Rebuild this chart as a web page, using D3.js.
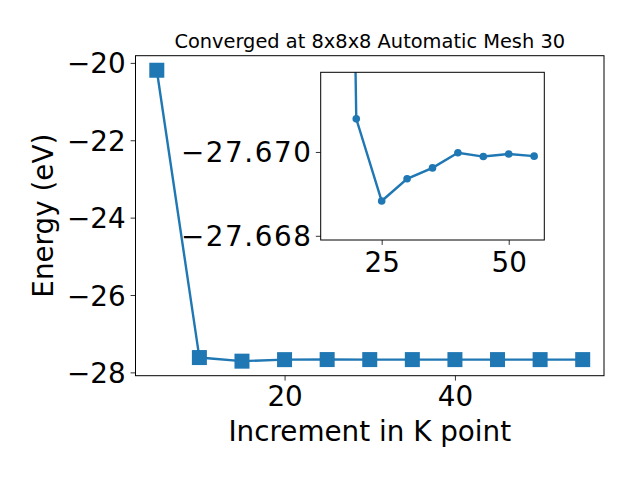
<!DOCTYPE html>
<html>
<head>
<meta charset="utf-8">
<script src="https://cdn.jsdelivr.net/npm/d3@7"></script>
<style>
body { margin: 0; background: #fff; }
svg { display: block; font-family: "DejaVu Sans", sans-serif; }
</style>
</head>
<body>
<svg id="chart" width="640" height="480"></svg>
<script>
// Data
const kpoints = [5, 10, 15, 20, 25, 30, 35, 40, 45, 50, 55];
const energy = [-20.19, -27.617, -27.71, -27.67079, -27.66883, -27.66936, -27.66962, -27.66998, -27.66989, -27.66995, -27.66990];
const mainXTicks = [20, 40];
const mainYTicks = [-28, -26, -24, -22, -20];
const insetXTicks = [25, 50];
const insetYTicks = [-27.670, -27.668];
const insetYLimits = [-27.6679, -27.6719];
const titleText = "Converged at 8x8x8 Automatic Mesh 30";
const xLabel = "Increment in K point";
const yLabel = "Energy (eV)";

const color = "#1f77b4";
const svg = d3.select("#chart");
const data = kpoints.map((k, i) => ({ k, e: energy[i] }));

// Main axes box
const M = { left: 135.5, right: 604, top: 55.7, bottom: 375.7 };
const xExt = d3.extent(kpoints), xPad = (xExt[1] - xExt[0]) * 0.05;
const yExt = d3.extent(energy), yPad = (yExt[1] - yExt[0]) * 0.05;
const x = d3.scaleLinear().domain([xExt[0] - xPad, xExt[1] + xPad]).range([M.left, M.right]);
const y = d3.scaleLinear().domain([yExt[0] - yPad, yExt[1] + yPad]).range([M.bottom, M.top]);

const fmtInt = d3.format("d");
const tickFont = "27.8px";

// main x axis
const gx = svg.append("g").attr("transform", `translate(0,${M.bottom})`)
  .call(d3.axisBottom(x).tickValues(mainXTicks).tickFormat(fmtInt).tickSize(4.9).tickPadding(4.9));
gx.select(".domain").remove();
gx.selectAll("line").attr("stroke", "#000").attr("stroke-width", 0.8);
gx.selectAll("text").attr("font-size", tickFont).attr("fill", "#000")
  .attr("font-family", "DejaVu Sans").attr("dy", "0.72em").attr("y", 10.6);

// main y axis
const gy = svg.append("g").attr("transform", `translate(${M.left},0)`)
  .call(d3.axisLeft(y).tickValues(mainYTicks).tickFormat(d3.format("d")).tickSize(4.9).tickPadding(4.9));
gy.select(".domain").remove();
gy.selectAll("line").attr("stroke", "#000").attr("stroke-width", 0.8);
gy.selectAll("text").attr("font-size", tickFont).attr("fill", "#000")
  .attr("font-family", "DejaVu Sans").attr("dy", "0.36em").attr("x", -9.8);

// clip for main
svg.append("clipPath").attr("id", "mainClip").append("rect")
  .attr("x", M.left).attr("y", M.top).attr("width", M.right - M.left).attr("height", M.bottom - M.top);

const mainG = svg.append("g").attr("clip-path", "url(#mainClip)");
mainG.append("path").datum(data)
  .attr("fill", "none").attr("stroke", color).attr("stroke-width", 2.4)
  .attr("d", d3.line().x(d => x(d.k)).y(d => y(d.e)));
const sq = 15;
mainG.selectAll("rect.mk").data(data).enter().append("rect").attr("class", "mk")
  .attr("x", d => x(d.k) - sq / 2).attr("y", d => y(d.e) - sq / 2)
  .attr("width", sq).attr("height", sq).attr("fill", color);

svg.append("rect").attr("x", M.left).attr("y", M.top)
  .attr("width", M.right - M.left).attr("height", M.bottom - M.top)
  .attr("fill", "none").attr("stroke", "#000").attr("stroke-width", 1);

// labels
svg.append("text").attr("x", (M.left + M.right) / 2).attr("y", 47.7)
  .attr("text-anchor", "middle").attr("font-size", "19.4px").text(titleText);
svg.append("text").attr("x", (M.left + M.right) / 2).attr("y", 440.7)
  .attr("text-anchor", "middle").attr("font-size", "27.8px").text(xLabel);
svg.append("text").attr("transform", `translate(53,${(M.top + M.bottom) / 2}) rotate(-90)`)
  .attr("text-anchor", "middle").attr("font-size", "27.8px").text(yLabel);

// Inset
const I = { left: 320.7, right: 544.3, top: 72.3, bottom: 240 };
const insetData = data.filter(d => d.k >= 15);
const ixExt = d3.extent(insetData, d => d.k), ixPad = (ixExt[1] - ixExt[0]) * 0.05;
const ix = d3.scaleLinear().domain([ixExt[0] - ixPad, ixExt[1] + ixPad]).range([I.left, I.right]);
const iy = d3.scaleLinear().domain(insetYLimits).range([I.bottom, I.top]);

svg.append("rect").attr("x", I.left).attr("y", I.top)
  .attr("width", I.right - I.left).attr("height", I.bottom - I.top).attr("fill", "#fff");

const igx = svg.append("g").attr("transform", `translate(0,${I.bottom})`)
  .call(d3.axisBottom(ix).tickValues(insetXTicks).tickFormat(fmtInt).tickSize(4.9).tickPadding(4.9));
igx.select(".domain").remove();
igx.selectAll("line").attr("stroke", "#000").attr("stroke-width", 0.8);
igx.selectAll("text").attr("font-size", tickFont).attr("fill", "#000")
  .attr("font-family", "DejaVu Sans").attr("dy", "0.72em").attr("y", 11.6);

const igy = svg.append("g").attr("transform", `translate(${I.left},0)`)
  .call(d3.axisLeft(iy).tickValues(insetYTicks).tickFormat(d3.format(".3f")).tickSize(4.9).tickPadding(4.9));
igy.select(".domain").remove();
igy.selectAll("line").attr("stroke", "#000").attr("stroke-width", 0.8);
igy.selectAll("text").attr("font-size", tickFont).attr("fill", "#000")
  .attr("font-family", "DejaVu Sans").attr("dy", "0.36em").attr("x", -9.8)
  .attr("textLength", 130).attr("lengthAdjust", "spacing");

svg.append("clipPath").attr("id", "insetClip").append("rect")
  .attr("x", I.left).attr("y", I.top).attr("width", I.right - I.left).attr("height", I.bottom - I.top);
const insetG = svg.append("g").attr("clip-path", "url(#insetClip)");
insetG.append("path").datum(insetData)
  .attr("fill", "none").attr("stroke", color).attr("stroke-width", 2.4)
  .attr("d", d3.line().x(d => ix(d.k)).y(d => iy(d.e)));
insetG.selectAll("circle").data(insetData).enter().append("circle")
  .attr("cx", d => ix(d.k)).attr("cy", d => iy(d.e)).attr("r", 3.8).attr("fill", color);

svg.append("rect").attr("x", I.left).attr("y", I.top)
  .attr("width", I.right - I.left).attr("height", I.bottom - I.top)
  .attr("fill", "none").attr("stroke", "#000").attr("stroke-width", 1);
</script>
</body>
</html>
